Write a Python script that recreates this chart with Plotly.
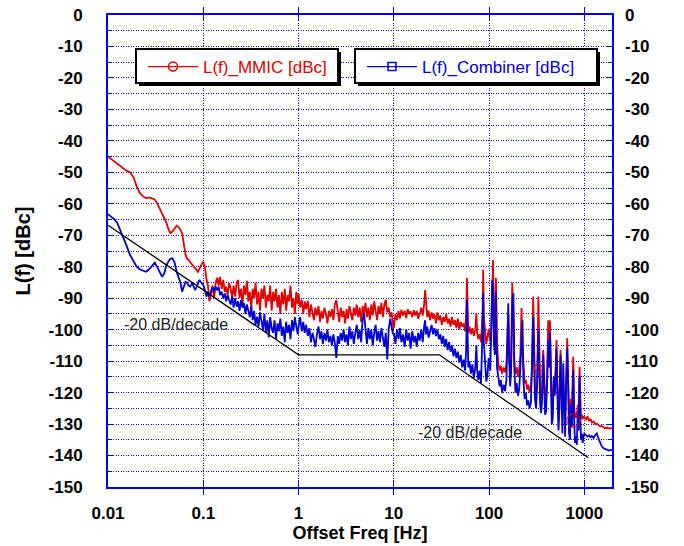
import plotly.graph_objects as go

# ---------------- data ----------------
freq_a = [0.0100, 0.0105, 0.0115, 0.0125, 0.0140, 0.0155, 0.0170, 0.0185, 0.0200, 0.0215,
          0.0230, 0.0250, 0.0270, 0.0290, 0.0310, 0.0330, 0.0350, 0.0370, 0.0390, 0.0410,
          0.0430, 0.0450, 0.0475, 0.0500, 0.0525, 0.0550, 0.0575, 0.0600, 0.0625, 0.0650,
          0.0675, 0.0700, 0.0730, 0.0760, 0.0790, 0.0820, 0.0850, 0.0880, 0.0910, 0.0940, 0.0970]
mmic_a = [-45.0, -45.5, -46.5, -47.5, -48.6, -49.4, -50.0, -51.5, -54.5, -56.5,
          -57.5, -58.2, -58.0, -58.4, -58.6, -60.0, -61.5, -63.0, -64.5, -66.0,
          -68.0, -69.3, -68.8, -67.7, -67.0, -67.4, -68.2, -69.5, -73.5, -76.0,
          -77.5, -77.8, -78.6, -79.2, -79.6, -80.3, -81.0, -81.6, -80.5, -79.4, -79.0]
comb_a = [-63.3, -63.8, -64.8, -66.0, -69.5, -73.0, -76.2, -78.3, -80.0, -80.8,
          -81.2, -81.6, -80.8, -79.6, -78.7, -80.2, -81.6, -83.2, -82.0, -79.6,
          -78.4, -77.5, -77.3, -78.6, -81.6, -83.2, -85.0, -87.9, -86.0, -84.8,
          -85.0, -86.0, -86.3, -85.3, -86.2, -87.4, -86.5, -85.2, -84.2, -84.8, -85.5]

freq_b = [0.100, 0.104, 0.108, 0.112, 0.116, 0.120, 0.125, 0.130, 0.135, 0.140,
          0.145, 0.150, 0.156, 0.162, 0.168, 0.174, 0.180, 0.187, 0.194, 0.201,
          0.208, 0.216, 0.224, 0.232, 0.240, 0.249, 0.258, 0.267, 0.277, 0.287,
          0.297, 0.308, 0.319, 0.330, 0.342, 0.354, 0.367, 0.380, 0.394, 0.408,
          0.423, 0.438, 0.454, 0.470, 0.487, 0.504, 0.522, 0.541, 0.560, 0.580,
          0.601, 0.622, 0.644, 0.667, 0.691, 0.716, 0.741, 0.768, 0.795, 0.823,
          0.853, 0.883, 0.915, 0.947, 0.981]
mmic_b = [-78.4, -80.0, -84.0, -86.0, -91.0, -88.0, -86.0, -90.0, -85.0, -83.5,
          -86.0, -83.2, -87.0, -84.2, -88.0, -86.3, -89.0, -85.2, -87.0, -90.0,
          -86.0, -89.5, -85.0, -84.2, -90.0, -87.0, -92.0, -86.0, -89.0, -84.5,
          -91.0, -88.0, -93.0, -87.0, -90.0, -85.0, -92.0, -88.0, -94.0, -87.0,
          -90.0, -86.0, -93.0, -89.0, -91.0, -86.0, -94.0, -88.0, -91.0, -87.0,
          -93.0, -89.0, -95.0, -88.0, -92.0, -87.0, -94.0, -89.0, -91.0, -86.0,
          -93.0, -90.0, -95.0, -88.0, -92.0]
comb_b = [-85.8, -87.4, -89.5, -88.0, -89.5, -87.9, -86.5, -88.0, -86.3, -87.5,
          -86.3, -89.0, -87.9, -90.0, -88.5, -91.0, -89.0, -90.6, -92.0, -89.5,
          -93.0, -90.0, -92.7, -91.0, -94.0, -90.6, -93.0, -91.5, -95.0, -92.0,
          -93.7, -96.0, -92.5, -97.0, -94.0, -98.5, -95.9, -99.0, -94.5, -97.5,
          -100.0, -95.0, -101.0, -97.0, -102.5, -96.0, -99.5, -101.0, -97.0, -103.0,
          -98.0, -100.5, -96.5, -102.0, -99.0, -104.0, -97.5, -101.0, -98.5, -103.0,
          -97.0, -100.5, -96.0, -99.0, -101.5]

freq_c = [1.00, 1.04, 1.08, 1.12, 1.16, 1.20, 1.25, 1.30, 1.35, 1.40,
          1.45, 1.50, 1.56, 1.62, 1.68, 1.74, 1.80, 1.87, 1.94, 2.01,
          2.08, 2.16, 2.24, 2.32, 2.40, 2.49, 2.58, 2.67, 2.77, 2.87,
          2.97, 3.08, 3.19, 3.30, 3.42, 3.54, 3.67, 3.80, 3.94, 4.08,
          4.23, 4.38, 4.54, 4.70, 4.87, 5.04, 5.22, 5.41, 5.60, 5.80,
          6.01, 6.22, 6.44, 6.67, 6.91, 7.16, 7.41, 7.68, 7.95, 8.23,
          8.53, 8.83, 9.15, 9.47, 9.81]
mmic_c = [-88.5, -93.0, -90.5, -95.0, -91.0, -93.5, -90.8, -96.0, -92.0, -94.5,
          -97.0, -93.0, -95.5, -92.5, -97.5, -94.0, -96.5, -93.0, -95.0, -98.0,
          -94.0, -96.0, -93.5, -97.0, -92.0, -90.6, -95.0, -97.5, -93.0, -96.0,
          -94.0, -98.0, -93.5, -96.5, -92.5, -95.0, -97.0, -93.0, -95.5, -92.0,
          -96.0, -93.0, -97.5, -92.5, -95.0, -91.5, -96.0, -93.0, -97.0, -92.0,
          -95.5, -91.0, -94.0, -97.0, -92.5, -95.0, -91.5, -96.0, -92.0, -90.5,
          -94.5, -93.0, -96.0, -94.5, -98.5]
comb_c = [-99.0, -96.0, -100.5, -97.5, -101.0, -98.5, -102.0, -99.5, -104.0, -101.0,
          -103.0, -105.5, -101.5, -99.0, -103.0, -100.5, -104.5, -101.0, -103.5, -100.0,
          -104.0, -102.0, -105.0, -101.5, -104.0, -109.0, -102.0, -104.5, -101.0, -103.5,
          -100.0, -104.0, -101.5, -105.0, -99.0, -103.0, -100.5, -104.5, -101.0, -98.5,
          -103.0, -100.0, -104.0, -97.0, -94.8, -101.0, -104.5, -99.5, -103.0, -100.0,
          -105.0, -101.0, -98.5, -103.5, -100.5, -104.0, -99.5, -102.5, -105.5, -101.0,
          -109.5, -100.0, -96.5, -99.0, -101.5]

freq_d = [10.0, 10.4, 10.8, 11.2, 11.6, 12.0, 12.5, 13.0, 13.5, 14.0,
          14.5, 15.0, 15.6, 16.2, 16.8, 17.4, 18.0, 18.7, 19.4, 20.1,
          20.8, 21.3, 21.8, 22.4, 23.2, 24.0, 24.9, 25.8, 26.7, 27.7,
          28.7, 29.7, 30.8, 31.9, 33.0, 34.2, 35.4, 36.7, 38.0, 39.4,
          40.8, 42.3, 43.8, 45.4, 47.0, 48.7, 50.4, 52.2, 54.1, 56.0,
          57.5, 58.5, 59.5, 60.5, 62.2, 64.4, 66.7, 69.1, 71.6, 73.5,
          75.0, 77.0, 79.5, 82.3, 85.3, 86.7, 88.0, 91.0, 93.5, 96.5, 98.8]
mmic_d = [-99.5, -95.0, -97.0, -94.0, -96.5, -93.7, -95.5, -94.0, -96.3, -93.5,
          -95.0, -94.2, -96.0, -93.8, -95.5, -94.0, -96.5, -95.0, -93.0, -95.5,
          -92.0, -87.4, -93.0, -96.0, -94.0, -97.0, -94.5, -96.5, -95.0, -98.0,
          -94.5, -97.0, -95.5, -98.5, -96.0, -97.5, -95.0, -98.0, -96.5, -99.0,
          -96.0, -98.5, -97.0, -99.5, -96.5, -100.0, -97.5, -99.0, -98.0, -100.5,
          -95.0, -83.6, -92.0, -101.0, -99.0, -101.5, -99.5, -102.0, -100.0, -94.7,
          -101.0, -103.0, -101.5, -104.0, -95.0, -81.0, -96.0, -101.0, -104.5, -102.0, -100.0]
comb_d = [-101.0, -104.5, -100.0, -103.0, -99.5, -104.0, -101.5, -105.5, -100.0, -103.5,
          -101.0, -106.0, -100.5, -104.0, -102.0, -105.5, -101.0, -103.5, -100.0, -104.0,
          -99.0, -97.0, -101.5, -99.0, -102.5, -100.0, -98.5, -101.5, -99.5, -102.0,
          -100.0, -103.0, -101.5, -104.5, -102.0, -105.5, -103.0, -106.5, -104.0, -107.0,
          -105.0, -108.5, -106.0, -109.0, -107.0, -110.5, -108.0, -112.0, -109.5, -113.0,
          -106.0, -90.6, -100.0, -112.0, -110.0, -114.0, -111.0, -115.5, -112.0, -105.0,
          -113.0, -116.0, -113.0, -117.0, -100.0, -88.4, -104.0, -112.0, -116.5, -114.0, -109.0]

freq_e = [100, 103, 106, 108, 110, 112, 115, 118, 121, 125,
          129, 133, 137, 142, 147, 152, 156, 159, 162, 166,
          170, 175, 180, 184, 189, 195, 201, 207, 213, 219,
          224, 229, 236, 243, 250, 258, 266, 275, 283, 290,
          296, 303, 311, 320, 329, 336, 344, 352, 360, 370,
          378, 387, 396, 406, 417, 426, 435, 445, 455, 466,
          478, 490, 500, 510, 522, 535, 548, 562, 575, 588,
          600, 614, 628, 643, 660, 675, 690, 706, 722, 740,
          764, 780, 797, 815, 833, 852, 870, 890, 905, 920,
          940, 960, 980]
mmic_e = [-101.0, -104.0, -98.0, -85.0, -77.9, -95.0, -100.0, -83.6, -104.0, -111.0,
          -113.0, -111.5, -114.0, -112.0, -113.5, -111.0, -104.0, -95.0, -106.0, -113.0,
          -111.0, -85.2, -96.0, -110.0, -114.0, -112.0, -115.0, -112.5, -108.0, -93.1,
          -105.0, -112.0, -117.0, -116.0, -119.0, -117.5, -120.0, -118.0, -112.0, -89.5,
          -101.0, -118.0, -121.0, -116.0, -89.5, -110.0, -120.0, -122.0, -119.0, -106.5,
          -118.0, -123.0, -121.0, -116.0, -97.0, -110.0, -97.0, -117.0, -124.0, -122.0,
          -116.0, -120.0, -110.0, -103.3, -118.0, -125.0, -121.0, -106.5, -118.0, -126.0,
          -119.0, -124.0, -127.0, -117.0, -102.7, -115.0, -126.0, -127.5, -122.0, -126.0,
          -108.6, -124.0, -128.0, -126.5, -128.0, -124.0, -126.0, -111.8, -124.0, -128.0,
          -127.0, -128.5, -127.5]
comb_e = [-110.0, -113.0, -100.0, -84.2, -86.0, -104.0, -108.0, -88.0, -112.0, -116.0,
          -118.0, -116.0, -120.0, -117.5, -119.5, -116.0, -103.0, -91.6, -108.0, -118.0,
          -114.0, -92.0, -88.4, -112.0, -120.0, -117.0, -121.0, -119.0, -112.0, -100.0,
          -97.0, -116.0, -122.0, -120.0, -124.0, -122.5, -125.0, -123.0, -112.0, -95.9,
          -108.0, -122.0, -125.0, -117.0, -100.0, -112.0, -124.0, -126.5, -122.0, -108.0,
          -121.0, -127.0, -126.0, -118.0, -103.5, -112.0, -101.0, -124.0, -130.0, -128.0,
          -115.0, -121.0, -109.0, -106.0, -122.0, -132.0, -125.0, -108.0, -120.0, -133.0,
          -110.7, -125.0, -134.0, -118.0, -106.0, -117.0, -133.0, -135.0, -124.0, -131.0,
          -112.8, -128.0, -136.0, -134.0, -136.6, -126.0, -132.0, -114.9, -127.0, -135.0,
          -133.0, -136.0, -134.0]

freq_f = [1000, 1040, 1080, 1120, 1160, 1200, 1250, 1300, 1350, 1400,
          1460, 1520, 1580, 1650, 1720, 1800, 1900, 1950]
mmic_f = [-127.8, -128.5, -127.6, -129.0, -128.4, -129.5, -129.2, -130.0, -129.8, -130.4,
          -130.8, -130.6, -131.0, -131.3, -131.1, -131.4, -131.3, -131.4]
comb_f = [-133.0, -133.5, -134.0, -133.6, -134.2, -133.8, -134.4, -133.5, -133.0, -134.5,
          -136.0, -137.0, -137.6, -137.8, -138.2, -138.4, -138.2, -138.3]

# -20 dB/decade guide lines
guide_hz = [0.01, 1.0, 30.0, 1100.0]
guide_dbc = [-66.8, -108.0, -108.0, -140.7]

# occasional MMIC markers
circle_hz = [329, 764]
circle_dbc = [-112.3, -128.9]

x_tickvals = [0.01, 0.1, 1, 10, 100, 1000]
x_ticktext = ["0.01", "0.1", "1", "10", "100", "1000"]
y_tickvals = [0, -10, -20, -30, -40, -50, -60, -70, -80, -90, -100, -110, -120, -130, -140, -150]
y_ticktext = ["0", "-10", "-20", "-30", "-40", "-50", "-60", "-70", "-80", "-90",
              "-100", "-110", "-120", "-130", "-140", "-150"]
y_minorvals = [-5, -15, -25, -35, -45, -55, -65, -75, -85, -95, -105, -115, -125, -135, -145]

# ---------------- assemble ----------------
segs = [(freq_a, mmic_a, comb_a), (freq_b, mmic_b, comb_b), (freq_c, mmic_c, comb_c),
        (freq_d, mmic_d, comb_d), (freq_e, mmic_e, comb_e), (freq_f, mmic_f, comb_f)]
freq, mmic, comb = [], [], []
for f, m, c in segs:
    assert len(f) == len(m) == len(c), (len(f), len(m), len(c))
    freq += f
    mmic += m
    comb += c

RED = "#e00000"
BLUE = "#0000d0"
GRID = "#0000ee"
DOTS = "1px,1.5px"
FONT = "Liberation Sans, Arial, Helvetica, sans-serif"

# page body margin is removed by the post script, so the figure sits at (0, 0);
# plot area in window pixels: 108..612 x 15..487
FIG_W, FIG_H = 684, 546
M_L, M_R, M_T, M_B = 108, FIG_W - 612, 15, FIG_H - 487

fig = go.Figure()

fig.add_trace(go.Scatter(x=freq, y=mmic, mode="lines", line=dict(color=RED, width=1.8),
                         showlegend=False, hoverinfo="skip"))
fig.add_trace(go.Scatter(x=freq, y=comb, mode="lines", line=dict(color=BLUE, width=1.8),
                         showlegend=False, hoverinfo="skip"))
fig.add_trace(go.Scatter(x=circle_hz, y=circle_dbc, mode="markers",
                         marker=dict(symbol="circle-open", color=RED, size=[8, 13],
                                     line=dict(width=1.5, color=RED)),
                         showlegend=False, hoverinfo="skip"))
fig.add_trace(go.Scatter(x=guide_hz, y=guide_dbc, mode="lines",
                         line=dict(color="black", width=1.3), showlegend=False, hoverinfo="skip"))

# legend entries
fig.add_trace(go.Scatter(x=[None], y=[None], mode="lines+markers", name="L(f)_MMIC [dBc]",
                         line=dict(color=RED, width=1.3),
                         marker=dict(symbol="circle-open", size=9, color=RED, line=dict(width=1.5)),
                         legend="legend"))
fig.add_trace(go.Scatter(x=[None], y=[None], mode="lines+markers", name="L(f)_Combiner [dBc]",
                         line=dict(color=BLUE, width=1.3),
                         marker=dict(symbol="square-open", size=8, color=BLUE, line=dict(width=1.5)),
                         legend="legend2", yaxis="y2"))

# legend frames (with drop shadow), in paper coordinates of plot area 108..612 x 15..487
def px_x(p):
    return (p - 108) / 504.0

def px_y(p):
    return (487 - p) / 472.0

shapes = []
for (l, r) in [(136, 338), (355, 597)]:
    t, b = 49, 83
    shapes.append(dict(type="rect", xref="paper", yref="paper", layer="above",
                       x0=px_x(l + 3), x1=px_x(r + 3), y0=px_y(b + 3), y1=px_y(t + 3),
                       fillcolor="black", line=dict(width=0)))
    shapes.append(dict(type="rect", xref="paper", yref="paper", layer="above",
                       x0=px_x(l), x1=px_x(r), y0=px_y(b), y1=px_y(t),
                       fillcolor="white", line=dict(color="black", width=2)))

axis_common = dict(showline=True, linecolor=GRID, linewidth=2, mirror="allticks",
                   ticks="inside", tickcolor=GRID, tickwidth=1, ticklen=6,
                   showgrid=True, gridcolor=GRID, gridwidth=1, griddash=DOTS,
                   zeroline=False, automargin=False, ticklabeloverflow="allow",
                   tickfont=dict(family=FONT, size=17, color="black", weight="bold"))

fig.update_layout(
    width=FIG_W, height=FIG_H,
    margin=dict(l=M_L, r=M_R, t=M_T, b=M_B, autoexpand=False),
    paper_bgcolor="white", plot_bgcolor="white",
    shapes=shapes,
    xaxis=dict(type="log", range=[-2, 3.29], tickmode="array", tickvals=x_tickvals,
               ticktext=x_ticktext, ticklabelstandoff=10,
               title=dict(text="Offset Freq [Hz]", standoff=2,
                          font=dict(family=FONT, size=18, color="black", weight="bold")),
               **axis_common),
    yaxis=dict(range=[-150, 0], tickmode="array", tickvals=y_tickvals, ticktext=y_ticktext,
               ticklabelstandoff=20,
               minor=dict(tickmode="array", tickvals=y_minorvals, ticks="inside", ticklen=4,
                          tickcolor=GRID, showgrid=True, gridcolor=GRID, griddash=DOTS,
                          gridwidth=1),
               title=dict(text="L(f) [dBc]", standoff=13,
                          font=dict(family=FONT, size=20, color="black", weight="bold")),
               **axis_common),
    yaxis2=dict(range=[-150, 0], overlaying="y", side="right", anchor="x",
                tickmode="array", tickvals=y_tickvals, ticktext=y_ticktext,
                showgrid=False, zeroline=False, showline=False, ticks="",
                ticklabelstandoff=12, automargin=False, ticklabeloverflow="allow",
                tickfont=dict(family=FONT, size=17, color="black", weight="bold")),
    legend=dict(x=px_x(143), y=px_y(67), xanchor="left", yanchor="middle",
                bgcolor="rgba(0,0,0,0)", borderwidth=0, itemwidth=50,
                font=dict(family=FONT, size=17, color=RED)),
    legend2=dict(x=px_x(362), y=px_y(67), xanchor="left", yanchor="middle",
                 bgcolor="rgba(0,0,0,0)", borderwidth=0, itemwidth=50,
                 font=dict(family=FONT, size=17, color=BLUE)),
    annotations=[
        dict(x=-1.2865, y=-98.2, xref="x", yref="y", text="-20 dB/decade", showarrow=False,
             font=dict(family=FONT, size=16, color="#222222")),
        dict(x=1.7985, y=-132.8, xref="x", yref="y", text="-20 dB/decade", showarrow=False,
             font=dict(family=FONT, size=16, color="#222222")),
    ],
)

fig.write_html("out.html",
               config={"displayModeBar": False, "staticPlot": True},
               post_script="document.body.style.margin='0px';document.body.style.overflow='hidden';")
